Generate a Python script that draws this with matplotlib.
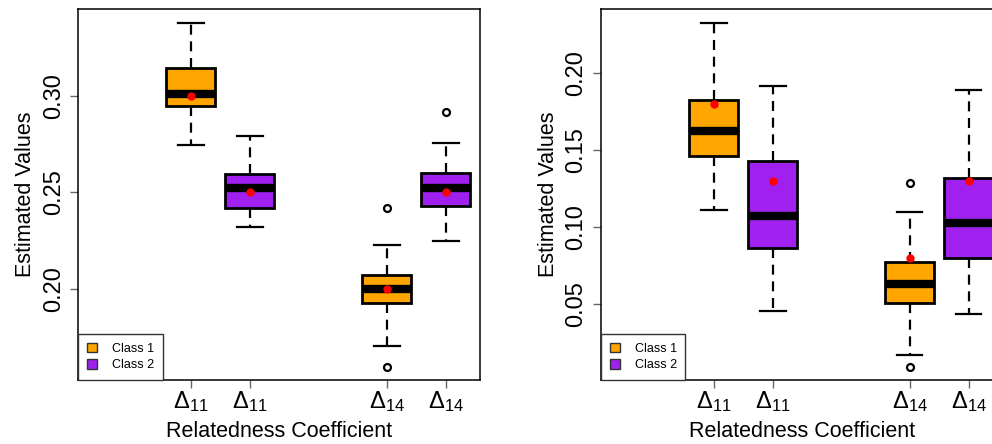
import matplotlib
matplotlib.use('Agg')
import matplotlib.pyplot as plt
from matplotlib.patches import Patch

plt.rcParams['font.family'] = ['Liberation Sans', 'DejaVu Sans']
plt.rcParams['mathtext.fontset'] = 'custom'
plt.rcParams['mathtext.rm'] = 'Liberation Sans'
plt.rcParams['mathtext.it'] = 'Liberation Sans'

# box order: Class 1 D11, Class 2 D11, Class 1 D14, Class 2 D14
tick_labels = [r'$\Delta_{11}$', r'$\Delta_{11}$', r'$\Delta_{14}$', r'$\Delta_{14}$']
classes = ['Class 1', 'Class 2', 'Class 1', 'Class 2']
positions = [1, 2, 4.32, 5.32]

# left panel
left_whislo = [0.2744, 0.2321, 0.1706, 0.2250]
left_q1 = [0.2948, 0.2421, 0.1926, 0.2432]
left_med = [0.3012, 0.2522, 0.1998, 0.2522]
left_q3 = [0.3143, 0.2594, 0.2074, 0.2601]
left_whishi = [0.3380, 0.2793, 0.2228, 0.2755]
left_mean = [0.30, 0.25, 0.20, 0.25]
left_fliers = [[], [], [0.2421, 0.1598], [0.2915]]

# right panel
right_whislo = [0.1113, 0.0457, 0.0169, 0.0437]
right_q1 = [0.1463, 0.0866, 0.0511, 0.0799]
right_med = [0.1628, 0.1076, 0.0630, 0.1026]
right_q3 = [0.1827, 0.1431, 0.0773, 0.1318]
right_whishi = [0.2329, 0.1916, 0.1102, 0.1894]
right_mean = [0.18, 0.13, 0.08, 0.13]
right_fliers = [[], [], [0.1288, 0.0095], []]

colors = {'Class 1': '#FFA500', 'Class 2': '#A020F0'}


def draw_panel(ax, whislo, q1, med, q3, whishi, mean, fliers, ylim, yticks, ytick_labels):
    stats = []
    for i in range(len(med)):
        stats.append(dict(whislo=whislo[i], q1=q1[i], med=med[i], q3=q3[i],
                          whishi=whishi[i], fliers=fliers[i], mean=mean[i]))
    bp = ax.bxp(stats, positions=positions, widths=0.83, patch_artist=True,
                showmeans=True, showfliers=True,
                boxprops=dict(linewidth=2.0, edgecolor='black'),
                medianprops=dict(linewidth=6, color='black', solid_capstyle='butt'),
                whiskerprops=dict(linewidth=1.6, linestyle=(0, (4.5, 3)), color='black'),
                capprops=dict(linewidth=1.6, color='black'),
                capwidths=0.44,
                meanprops=dict(marker='o', markerfacecolor='red', markeredgecolor='red',
                               markersize=5),
                flierprops=dict(marker='o', markerfacecolor='none', markeredgecolor='black',
                                markeredgewidth=1.6, markersize=5))
    for patch, c in zip(bp['boxes'], classes):
        patch.set_facecolor(colors[c])
    ax.set_xlim(-0.915, 5.9)
    ax.set_ylim(*ylim)
    ax.set_xticks(positions)
    ax.set_xticklabels(tick_labels, fontsize=17)
    ax.set_yticks(yticks)
    ax.set_yticklabels(ytick_labels, fontsize=17, rotation=90, va='center')
    ax.tick_params(axis='both', length=5.5, width=1, color='#666666', direction='out')
    ax.tick_params(axis='x', pad=1)
    ax.tick_params(axis='y', pad=4)
    for s in ax.spines.values():
        s.set_linewidth(1.1)
    ax.set_xlabel('Relatedness Coefficient', fontsize=15.5, labelpad=5)
    ax.set_ylabel('Estimated Values', fontsize=15.5, labelpad=5)
    handles = [Patch(facecolor=colors['Class 1'], edgecolor='#333333', label='Class 1'),
               Patch(facecolor=colors['Class 2'], edgecolor='#333333', label='Class 2')]
    leg = ax.legend(handles=handles, loc='lower left', bbox_to_anchor=(0, 0), borderaxespad=0,
                    fontsize=9, fancybox=False, framealpha=1, edgecolor='#333333',
                    handlelength=0.8, handleheight=0.8, handletextpad=1.2,
                    borderpad=0.7, labelspacing=0.35)
    leg.get_frame().set_linewidth(1.0)


fig = plt.figure(figsize=(9.92, 4.44), dpi=100)
ax1 = fig.add_axes([0.0786, 0.1441, 0.4052, 0.8356])
ax2 = fig.add_axes([0.6056, 0.1441, 0.4052, 0.8356])

draw_panel(ax1, left_whislo, left_q1, left_med, left_q3, left_whishi, left_mean, left_fliers,
           (0.1528, 0.3451), [0.20, 0.25, 0.30], ['0.20', '0.25', '0.30'])
draw_panel(ax2, right_whislo, right_q1, right_med, right_q3, right_whishi, right_mean, right_fliers,
           (0.0008, 0.2418), [0.05, 0.10, 0.15, 0.20], ['0.05', '0.10', '0.15', '0.20'])

fig.savefig('out.png', dpi=100)
